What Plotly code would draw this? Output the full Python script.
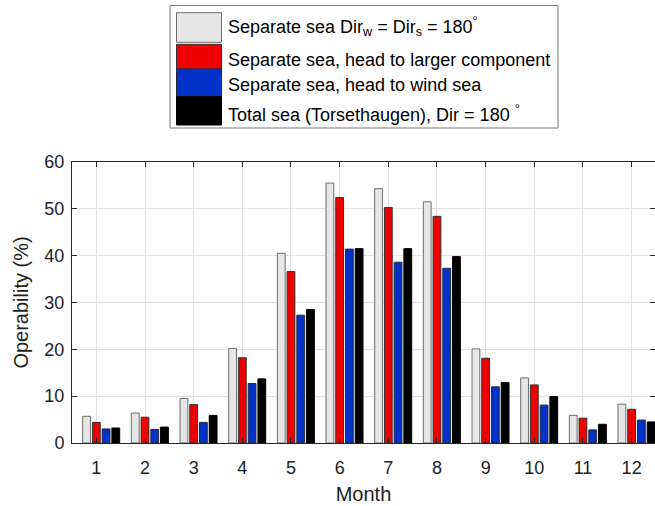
import plotly.graph_objects as go

# Monthly operability (%) for four sea-state modelling approaches
months = [1, 2, 3, 4, 5, 6, 7, 8, 9, 10, 11, 12]
month_labels = ["1", "2", "3", "4", "5", "6", "7", "8", "9", "10", "11", "12"]

sep_dir180 = [5.7, 6.4, 9.5, 20.2, 40.5, 55.5, 54.3, 51.5, 20.1, 13.9, 5.9, 8.3]
sep_larger = [4.4, 5.5, 8.2, 18.2, 36.6, 52.4, 50.3, 48.4, 18.1, 12.4, 5.3, 7.2]
sep_wind = [3.0, 2.9, 4.4, 12.7, 27.3, 41.4, 38.6, 37.3, 12.0, 8.1, 2.8, 4.9]
total_sea = [3.2, 3.4, 5.9, 13.7, 28.5, 41.5, 41.5, 39.8, 12.9, 9.9, 4.0, 4.5]

series_names = [
    "Separate sea Dir<sub>w</sub> = Dir<sub>s</sub> = 180<sup>°</sup>",
    "Separate sea, head to larger component",
    "Separate sea, head to wind sea",
    "Total sea (Torsethaugen), Dir = 180 <sup>°</sup>",
]
series_values = [sep_dir180, sep_larger, sep_wind, total_sea]
fill_colors = ["rgb(230,230,230)", "rgb(238,0,0)", "rgb(0,50,200)", "rgb(0,0,0)"]
edge_colors = ["rgb(110,110,110)", "rgb(50,50,50)", "rgb(40,40,60)", "rgb(0,0,0)"]

BAR_W = 0.16
STEP = 0.2
centers = [-STEP, 0.0, STEP, 2 * STEP]

FONT = "Liberation Sans, Arial, sans-serif"
W, H = 655, 506
ML, MR, MT, MB = 72, 0, 162, 63

fig = go.Figure()
for name, vals, fc, ec, c in zip(series_names, series_values, fill_colors, edge_colors, centers):
    fig.add_trace(go.Bar(
        x=months, y=vals, name=name,
        width=BAR_W, offset=c - BAR_W / 2,
        marker=dict(color=fc, line=dict(color=ec, width=1)),
        showlegend=False,
    ))

axis_col = "rgb(38,38,38)"
grid_col = "rgb(224,224,224)"

fig.update_layout(
    width=W, height=H,
    margin=dict(l=ML, r=MR, t=MT, b=MB, pad=0),
    barmode="overlay",
    plot_bgcolor="white", paper_bgcolor="white",
    font=dict(family=FONT, size=18, color="rgb(30,30,30)"),
)
fig.update_xaxes(
    range=[0.5, 12.48], tickmode="array", tickvals=months, ticktext=month_labels,
    ticks="inside", ticklen=5, tickcolor=axis_col, tickwidth=1,
    showline=True, linecolor=axis_col, linewidth=1, mirror="allticks",
    showgrid=True, gridcolor=grid_col, gridwidth=1, zeroline=False,
    tickfont=dict(size=18), ticklabelstandoff=8,
    title=dict(text="Month", font=dict(size=20), standoff=10),
)
fig.update_yaxes(
    range=[0, 60], tickmode="array", tickvals=[0, 10, 20, 30, 40, 50, 60],
    ticks="inside", ticklen=5, tickcolor=axis_col, tickwidth=1,
    showline=True, linecolor=axis_col, linewidth=1, mirror="allticks",
    showgrid=True, gridcolor=grid_col, gridwidth=1, zeroline=False,
    tickfont=dict(size=18), ticklabelstandoff=3,
    title=dict(text="Operability (%)", font=dict(size=20), standoff=10),
)

# Legend drawn as a boxed block of swatches and labels above the axes
pw, ph = W - ML - MR, H - MT - MB


def px_x(px):
    return (px - ML) / pw


def px_y(py):
    return (H - MB - py) / ph


shapes = [dict(type="rect", xref="paper", yref="paper",
               x0=px_x(170), x1=px_x(558), y0=px_y(128), y1=px_y(5.5),
               line=dict(color="rgb(120,120,120)", width=1), fillcolor="white")]
swatch_rows = [(12.7, 42.3), (44.3, 69), (69, 96.7), (96.7, 125)]
for (top, bot), fc, ec in zip(swatch_rows, fill_colors, edge_colors):
    shapes.append(dict(type="rect", xref="paper", yref="paper",
                       x0=px_x(176.5), x1=px_x(221.5), y0=px_y(bot), y1=px_y(top),
                       line=dict(color=ec, width=1), fillcolor=fc))
fig.update_layout(shapes=shapes)

text_rows = [26, 60, 85, 113]
for name, ty in zip(series_names, text_rows):
    fig.add_annotation(xref="paper", yref="paper", x=px_x(226), y=px_y(ty),
                       xanchor="left", yanchor="middle", text=name, showarrow=False,
                       font=dict(size=18, family=FONT, color="black"))

fig.write_html("out.html")
